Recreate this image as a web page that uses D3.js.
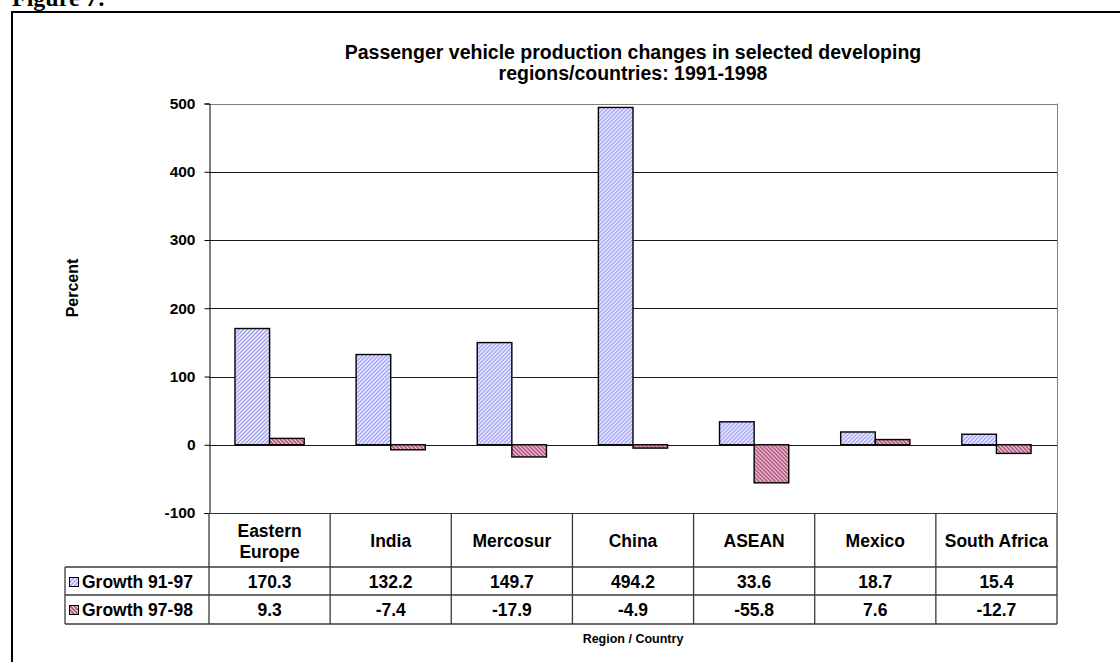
<!DOCTYPE html>
<html>
<head>
<meta charset="utf-8">
<script src="https://cdn.jsdelivr.net/npm/d3@7"></script>
<style>
  html, body { margin: 0; padding: 0; background: #fff; }
  svg { display: block; }
  text { font-family: Arial, "Liberation Sans", sans-serif; font-weight: bold; fill: #000; }
</style>
</head>
<body>
<svg id="chart" width="1120" height="662"></svg>
<script>
// Passenger vehicle production growth, percent
const categories = ["Eastern Europe", "India", "Mercosur", "China", "ASEAN", "Mexico", "South Africa"];
const seriesNames = ["Growth 91-97", "Growth 97-98"];
const growth9197 = [170.3, 132.2, 149.7, 494.2, 33.6, 18.7, 15.4];
const growth9798 = [9.3, -7.4, -17.9, -4.9, -55.8, 7.6, -12.7];
const yTicks = [-100, 0, 100, 200, 300, 400, 500];

const seriesValues = [growth9197, growth9798];

const svg = d3.select("#chart");

// hatch fills for the two series
const defs = svg.append("defs");
function hatch(id, bg, fg, dir) {
  const p = defs.append("pattern")
    .attr("id", id).attr("patternUnits", "userSpaceOnUse")
    .attr("width", 4).attr("height", 4);
  p.append("rect").attr("width", 4).attr("height", 4).attr("fill", bg);
  const d = dir > 0
    ? "M-1,1 L1,-1 M0,4 L4,0 M3,5 L5,3"
    : "M-1,3 L1,5 M0,0 L4,4 M3,-1 L5,1";
  p.append("path").attr("d", d).attr("stroke", fg).attr("stroke-width", 1.6);
}
hatch("hatchBlue", "#ffffff", "#a4a4f8", 1);
hatch("hatchPink", "#f4d8e4", "#b0507c", -1);
const fills = ["url(#hatchBlue)", "url(#hatchPink)"];

// figure caption and frame
svg.append("text").attr("x", 12).attr("y", 6)
  .style("font-family", "'Liberation Serif', 'Times New Roman', serif")
  .style("font-size", "24px").text("Figure 7:");
svg.append("path").attr("d", "M12,1130 V12 H1130")
  .attr("fill", "none").attr("stroke", "#000").attr("stroke-width", 2);

// title
const title = svg.append("text").attr("text-anchor", "middle").style("font-size", "19.5px");
title.append("tspan").attr("x", 633).attr("y", 59)
  .text("Passenger vehicle production changes in selected developing");
title.append("tspan").attr("x", 633).attr("y", 80)
  .text("regions/countries: 1991-1998");

// scales
const plotLeft = 209, plotRight = 1057, plotTop = 103.5, plotBottom = 513;
const y = d3.scaleLinear().domain([-100, 500]).range([plotBottom, plotTop]);
const x0 = d3.scaleBand().domain(categories).range([plotLeft, plotRight]).padding(0);
const x1 = d3.scaleBand().domain(seriesNames).range([0, x0.bandwidth()])
  .paddingInner(0).paddingOuter(0.75);

// gridlines
svg.append("g").selectAll("line").data(yTicks.filter(t => t > -100))
  .join("line")
  .attr("x1", plotLeft).attr("x2", plotRight)
  .attr("y1", d => Math.round(y(d)) + 0.5).attr("y2", d => Math.round(y(d)) + 0.5)
  .attr("stroke", d => d === 500 ? "#808080" : "#1a1a1a").attr("stroke-width", 1);

// plot-area right edge
svg.append("line").attr("x1", plotRight + 0.5).attr("x2", plotRight + 0.5)
  .attr("y1", y(500)).attr("y2", plotBottom)
  .attr("stroke", "#808080");

// bars
const groups = svg.append("g").selectAll("g").data(categories).join("g")
  .attr("transform", d => `translate(${x0(d)},0)`);
groups.selectAll("rect")
  .data((c, i) => seriesNames.map((s, k) => ({ s, k, v: seriesValues[k][i] })))
  .join("rect")
  .attr("x", d => x1(d.s))
  .attr("width", x1.bandwidth())
  .attr("y", d => y(Math.max(0, d.v)))
  .attr("height", d => Math.abs(y(d.v) - y(0)))
  .attr("fill", d => fills[d.k])
  .attr("stroke", "#000").attr("stroke-width", 1.4);

// y axis
const yAxis = d3.axisLeft(y).tickValues(yTicks).tickSize(5).tickPadding(9)
  .tickFormat(d => String(d));
const ya = svg.append("g").attr("transform", `translate(${plotLeft + 0.5},0)`).call(yAxis);
ya.attr("font-size", null).attr("font-family", null);
ya.select(".domain").attr("stroke", "#000");
ya.selectAll(".tick line").attr("stroke", "#000");
ya.selectAll(".tick text").style("font-size", "15.5px");

// bottom axis line at -100
svg.append("line").attr("x1", plotLeft).attr("x2", plotRight)
  .attr("y1", plotBottom + 0.5).attr("y2", plotBottom + 0.5).attr("stroke", "#333");

svg.append("text").attr("transform", "translate(78,288) rotate(-90)")
  .attr("text-anchor", "middle").style("font-size", "16px").text("Percent");

// data table beneath the plot
const tableLeft = 65, headBottom = 567, row1Bottom = 595, row2Bottom = 624;
const grid = svg.append("g").attr("stroke", "#3a3a3a").attr("stroke-width", 1.3);
[headBottom, row1Bottom, row2Bottom].forEach(yy =>
  grid.append("line").attr("x1", tableLeft).attr("x2", plotRight).attr("y1", yy).attr("y2", yy));
grid.append("line").attr("x1", tableLeft).attr("x2", tableLeft)
  .attr("y1", headBottom).attr("y2", row2Bottom);
grid.selectAll("line.col").data(categories.map(c => x0(c)).concat([plotRight]))
  .join("line").attr("class", "col")
  .attr("x1", d => d).attr("x2", d => d)
  .attr("y1", plotBottom).attr("y2", row2Bottom);

// category header cells
const head = svg.append("g").selectAll("text").data(categories).join("text")
  .attr("text-anchor", "middle").style("font-size", "17.5px");
head.each(function (c) {
  const cx = x0(c) + x0.bandwidth() / 2;
  const t = d3.select(this);
  if (c === "Eastern Europe") {
    t.append("tspan").attr("x", cx).attr("y", 537).text("Eastern");
    t.append("tspan").attr("x", cx).attr("y", 558).text("Europe");
  } else {
    t.append("tspan").attr("x", cx).attr("y", 547).text(c);
  }
});

// value rows with legend keys
const rowY = [588, 616];
seriesNames.forEach((s, k) => {
  const ky = rowY[k] - 10;
  svg.append("rect").attr("x", 69.5).attr("y", ky - 0.5).attr("width", 9).attr("height", 9)
    .attr("fill", fills[k]).attr("stroke", "#000").attr("stroke-width", 1);
  svg.append("text").attr("x", 82).attr("y", rowY[k]).style("font-size", "17.5px").text(s);
  svg.append("g").selectAll("text").data(categories).join("text")
    .attr("text-anchor", "middle").style("font-size", "17.5px")
    .attr("x", c => x0(c) + x0.bandwidth() / 2).attr("y", rowY[k])
    .text((c, i) => seriesValues[k][i].toFixed(1));
});

svg.append("text").attr("x", 633).attr("y", 643).attr("text-anchor", "middle")
  .style("font-size", "12.5px").text("Region / Country");
</script>
</body>
</html>
